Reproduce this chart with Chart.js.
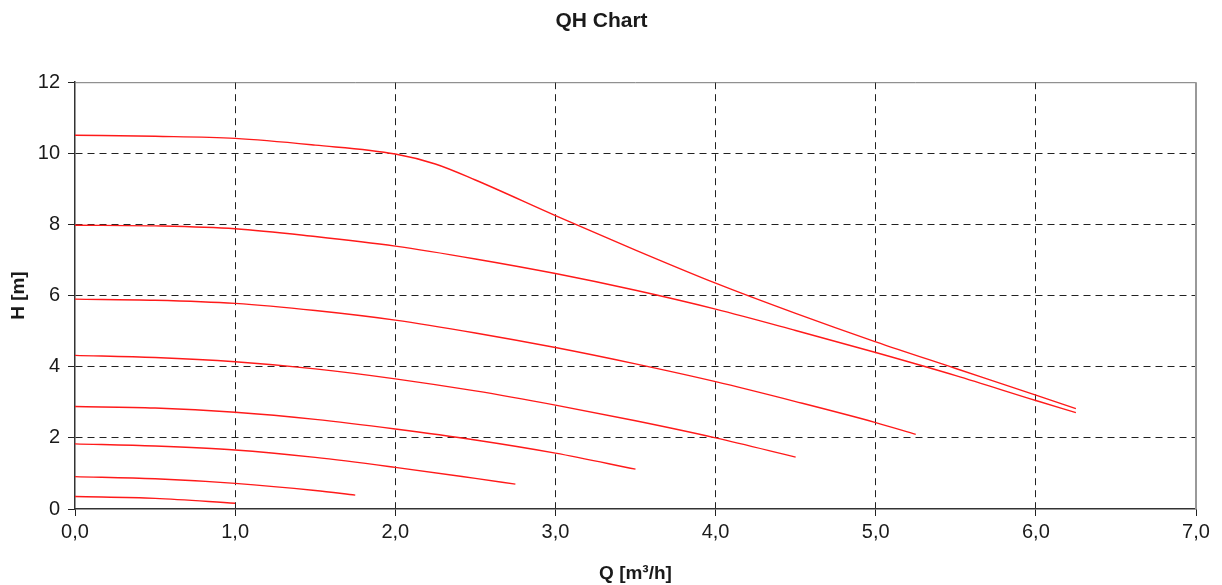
<!DOCTYPE html>
<html>
<head>
<meta charset="utf-8">
<script src="https://cdn.jsdelivr.net/npm/chart.js@4.4.1/dist/chart.umd.min.js"></script>
<style>
  html, body { margin: 0; padding: 0; background: #fff; }
  canvas { display: block; }
</style>
</head>
<body>
<canvas id="qh" width="1222" height="585"></canvas>
<script>
// Q [m3/h] and H [m] for each speed curve, top to bottom
const q1 = [0, 0.5, 1, 1.5, 2, 2.25, 2.5, 3, 3.5, 4, 4.5, 5, 5.5, 6, 6.25];
const h1 = [10.51, 10.48, 10.42, 10.23, 9.98, 9.7, 9.25, 8.25, 7.28, 6.35, 5.5, 4.7, 3.95, 3.2, 2.82];
const q2 = [0, 0.5, 1, 1.5, 2, 2.5, 3, 3.5, 4, 4.5, 5, 5.5, 6, 6.25];
const h2 = [7.98, 7.96, 7.88, 7.66, 7.39, 7.03, 6.62, 6.15, 5.62, 5.02, 4.4, 3.75, 3.05, 2.71];
const q3 = [0, 0.5, 1, 1.5, 2, 2.5, 3, 3.5, 4, 4.5, 5, 5.25];
const h3 = [5.9, 5.87, 5.78, 5.58, 5.31, 4.95, 4.54, 4.08, 3.58, 3.02, 2.43, 2.1];
const q4 = [0, 0.5, 1, 1.5, 2, 2.5, 3, 3.5, 4, 4.5];
const h4 = [4.32, 4.26, 4.14, 3.94, 3.66, 3.32, 2.92, 2.48, 2.0, 1.46];
const q5 = [0, 0.5, 1, 1.5, 2, 2.5, 3, 3.5];
const h5 = [2.88, 2.84, 2.72, 2.52, 2.25, 1.94, 1.57, 1.12];
const q6 = [0, 0.5, 1, 1.5, 2, 2.5, 2.75];
const h6 = [1.83, 1.77, 1.66, 1.45, 1.17, 0.86, 0.7];
const q7 = [0, 0.5, 1, 1.5, 1.75];
const h7 = [0.91, 0.85, 0.72, 0.52, 0.39];
const q8 = [0, 0.5, 1];
const h8 = [0.35, 0.3, 0.16];

const curves = [[q1, h1], [q2, h2], [q3, h3], [q4, h4], [q5, h5], [q6, h6], [q7, h7], [q8, h8]];

const xMin = 0, xMax = 7, xStep = 1;
const yMin = 0, yMax = 12, yStep = 2;

const font = 'Liberation Sans, Arial, sans-serif';
const gridDash = [7, 5];

// solid grey frame on top and right of the plot
const framePlugin = {
  id: 'frame',
  afterDatasetsDraw(chart) {
    const {ctx, chartArea: a} = chart;
    ctx.save();
    ctx.strokeStyle = '#777';
    ctx.lineWidth = 1;
    ctx.beginPath();
    ctx.moveTo(a.left, a.top + 0.5);
    ctx.lineTo(a.right, a.top + 0.5);
    ctx.stroke();
    ctx.strokeStyle = '#999';
    ctx.lineWidth = 2;
    ctx.beginPath();
    ctx.moveTo(a.right, a.top);
    ctx.lineTo(a.right, a.bottom);
    ctx.stroke();
    ctx.restore();
  }
};

function gridColor(edges) {
  return c => (c.tick && edges.includes(c.tick.value)) ? 'rgba(0,0,0,0)' : '#222';
}

new Chart(document.getElementById('qh'), {
  type: 'scatter',
  data: {
    datasets: curves.map(([q, h], i) => ({
      label: 'n' + (i + 1),
      data: q.map((x, j) => ({x: x, y: h[j]})),
      showLine: true,
      borderColor: '#ff1a1a',
      borderWidth: 1.4,
      pointRadius: 0,
      cubicInterpolationMode: 'monotone'
    }))
  },
  options: {
    responsive: false,
    animation: false,
    layout: {padding: {left: 7, right: 26, top: 0, bottom: 0}},
    plugins: {
      legend: {display: false},
      tooltip: {enabled: false},
      title: {
        display: true,
        text: 'QH Chart',
        color: '#1a1a1a',
        font: {family: font, size: 21, weight: 'bold'},
        padding: {top: 9, bottom: 48}
      }
    },
    scales: {
      x: {
        type: 'linear',
        min: xMin, max: xMax,
        afterFit: s => { s.height = 76; },
        ticks: {
          stepSize: xStep,
          padding: 4,
          color: '#1a1a1a',
          font: {family: font, size: 20},
          callback: v => v.toFixed(1).replace('.', ',')
        },
        grid: {
          color: gridColor([xMin, xMax]),
          tickLength: 7,
          tickColor: '#222',
          tickBorderDash: []
        },
        border: {color: '#333', width: 1.5, dash: gridDash},
        title: {
          display: true,
          text: 'Q [m³/h]',
          color: '#1a1a1a',
          font: {family: font, size: 19, weight: 'bold'},
          padding: {top: 0, bottom: 0}
        }
      },
      y: {
        min: yMin, max: yMax,
        afterFit: s => { s.width = 68; },
        ticks: {
          stepSize: yStep,
          padding: 8,
          color: '#1a1a1a',
          font: {family: font, size: 20}
        },
        grid: {
          color: gridColor([yMin, yMax]),
          tickLength: 7,
          tickColor: '#222',
          tickBorderDash: []
        },
        border: {color: '#333', width: 1.5, dash: gridDash},
        title: {
          display: true,
          text: 'H [m]',
          color: '#1a1a1a',
          font: {family: font, size: 19, weight: 'bold'},
          padding: {top: 0, bottom: 0}
        }
      }
    }
  },
  plugins: [framePlugin]
});
</script>
</body>
</html>
